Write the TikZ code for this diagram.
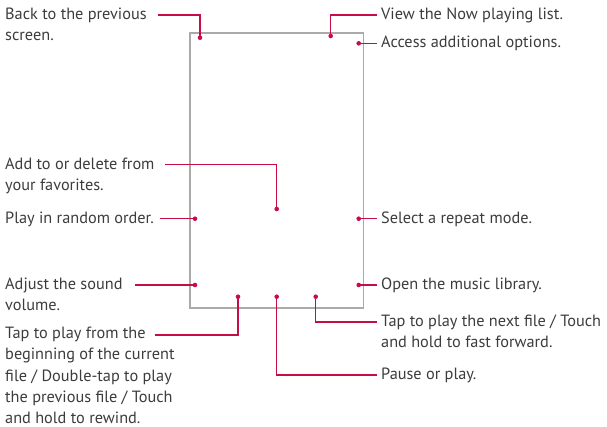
\documentclass[tikz,border=0pt]{standalone}
\usepackage{fontspec}
\setmainfont{PT Sans}
\definecolor{lgred}{RGB}{200,12,70}
\definecolor{txt}{RGB}{60,60,60}
\definecolor{frame}{RGB}{170,170,170}
\begin{document}
\begin{tikzpicture}[x=1pt,y=-1pt,
  lbl/.style={inner sep=0pt, align=left, font=\fontsize{16.3}{21.3}\selectfont, text=txt, anchor=base west},
  dotn/.style={circle, fill=lgred, inner sep=0pt, minimum size=4.6pt},
  conn/.style={draw=lgred, line width=1.2pt}]
\useasboundingbox (0,0) rectangle (607,426);
% phone screen
\draw[frame, line width=1.2pt] (190,33) rectangle (363.3,308);
% dots
\node[dotn] (dback) at (200,37.7) {};
\node[dotn] (dlist) at (330.7,36) {};
\node[dotn] (dopt) at (358.7,43.3) {};
\node[dotn] (dfav) at (276.7,209) {};
\node[dotn] (drand) at (195,218.7) {};
\node[dotn] (drep) at (358.7,218.7) {};
\node[dotn] (dvol) at (195,285) {};
\node[dotn] (dlib) at (358.7,285) {};
\node[dotn] (dprev) at (238,296.7) {};
\node[dotn] (dplay) at (276.7,296.7) {};
\node[dotn] (dnext) at (315.7,296.7) {};
% labels left (base anchor = baseline of last line)
\node[lbl] (lback) at (5,40.8) {Back to the previous\\screen.};
\node[lbl] (lfav) at (5,190.3) {Add to or delete from\\your favorites.};
\node[lbl] (lrand) at (5,223) {Play in random order.};
\node[lbl] (lvol) at (5,310.8) {Adjust the sound\\volume.};
\node[lbl] (lprev) at (5,423.6) {Tap to play from the\\beginning of the current\\file / Double-tap to play\\the previous file / Touch\\and hold to rewind.};
% labels right
\node[lbl] (llist) at (381,19.5) {View the Now playing list.};
\node[lbl] (lopt) at (381,47.8) {Access additional options.};
\node[lbl] (lrep) at (381,223.2) {Select a repeat mode.};
\node[lbl] (llib) at (381,289.5) {Open the music library.};
\node[lbl] (lnext) at (381,347.8) {Tap to play the next file / Touch\\and hold to fast forward.};
\node[lbl] (lplay) at (381,379.5) {Pause or play.};
% connector free ends
\coordinate (cback) at (158,15);
\coordinate (cfav) at (165,164.3);
\coordinate (crand) at (160,218.7);
\coordinate (cvol) at (135,285);
\coordinate (cprev) at (155,335);
\coordinate (clist) at (377,15);
\coordinate (copt) at (377,43.3);
\coordinate (crep) at (377,218.7);
\coordinate (clib) at (377,285);
\coordinate (cnext) at (377,322);
\coordinate (cplay) at (377,375);
% connectors
\draw[conn] (cback) -| (dback.center);
\draw[conn] (cfav) -| (dfav.center);
\draw[conn] (crand) -- (drand.center);
\draw[conn] (cvol) -- (dvol.center);
\draw[conn] (cprev) -| (dprev.center);
\draw[conn] (clist) -| (dlist.center);
\draw[conn] (copt) -- (dopt.center);
\draw[conn] (crep) -- (drep.center);
\draw[conn] (clib) -- (dlib.center);
\draw[conn] (cnext) -| (dnext.center);
\draw[conn] (cplay) -| (dplay.center);
\end{tikzpicture}
\end{document}
